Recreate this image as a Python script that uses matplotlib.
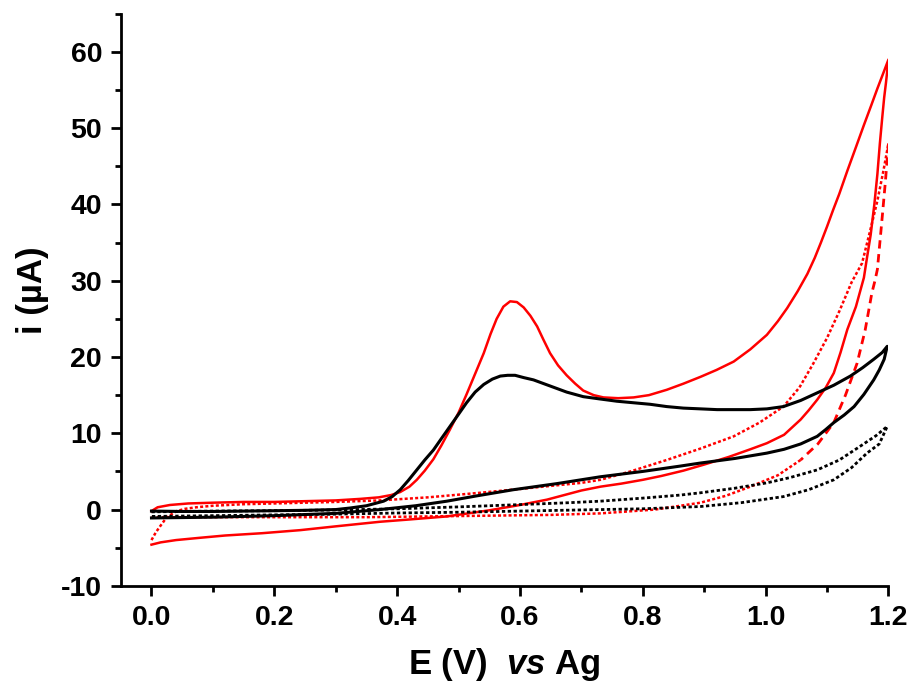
import numpy as np
import matplotlib
matplotlib.use("Agg")
import matplotlib.pyplot as plt
from matplotlib.ticker import MultipleLocator

plt.rcParams['font.family'] = ['Liberation Sans', 'DejaVu Sans']
plt.rcParams['font.weight'] = 'bold'
plt.rcParams['axes.unicode_minus'] = False
plt.rcParams['mathtext.fontset'] = 'custom'
plt.rcParams['mathtext.it'] = 'Liberation Sans:italic:bold'
plt.rcParams['mathtext.rm'] = 'Liberation Sans:bold'

# --- voltamogramas (E en V, i en uA) ---

# rojo continuo
rs_fwd_E = [0.000, 0.010, 0.030, 0.060, 0.100, 0.150, 0.200, 0.250, 0.300, 0.340, 0.370,
            0.390, 0.405, 0.420, 0.432, 0.445, 0.459, 0.472, 0.486, 0.500, 0.513, 0.527,
            0.541, 0.552, 0.562, 0.573, 0.584, 0.595, 0.606, 0.617, 0.628, 0.638, 0.649,
            0.662, 0.676, 0.690, 0.703, 0.720, 0.736, 0.760, 0.785, 0.810, 0.839, 0.866,
            0.894, 0.920, 0.948, 0.975, 1.002, 1.020, 1.035, 1.052, 1.068, 1.080, 1.090,
            1.100, 1.110, 1.120, 1.133, 1.147, 1.160, 1.172, 1.182, 1.192, 1.200]
rs_fwd_i = [-0.2, 0.3, 0.6, 0.8, 0.9, 1.0, 1.0, 1.1, 1.2, 1.4, 1.6,
            1.9, 2.3, 3.0, 3.9, 5.1, 6.6, 8.4, 10.5, 12.7, 15.1, 17.8,
            20.5, 23.0, 25.0, 26.6, 27.3, 27.2, 26.5, 25.4, 24.0, 22.3, 20.5,
            18.9, 17.6, 16.5, 15.6, 15.0, 14.7, 14.6, 14.7, 15.0, 15.7, 16.5,
            17.4, 18.3, 19.4, 21.0, 22.9, 24.7, 26.4, 28.6, 30.9, 33.0, 35.0,
            37.1, 39.3, 41.4, 44.4, 47.5, 50.4, 53.0, 55.2, 57.3, 59.0]
rs_rev_E = [1.196, 1.193, 1.190, 1.186, 1.182, 1.177, 1.171, 1.165, 1.160, 1.147, 1.133,
            1.122, 1.111, 1.098, 1.084, 1.070, 1.057, 1.030, 1.002, 0.975, 0.940, 0.900,
            0.866, 0.830, 0.800, 0.765, 0.731, 0.700, 0.644, 0.600, 0.550, 0.481, 0.420,
            0.372, 0.300, 0.242, 0.180, 0.120, 0.079, 0.040, 0.015, 0.000]
rs_rev_i = [56.0, 54.0, 51.5, 48.0, 44.0, 40.0, 36.0, 33.0, 30.4, 26.6, 23.6,
            20.6, 17.9, 16.0, 14.4, 13.0, 11.8, 9.8, 8.7, 7.9, 6.9, 5.9,
            5.1, 4.4, 3.9, 3.4, 3.0, 2.5, 1.3, 0.6, -0.1, -0.9, -1.3,
            -1.6, -2.2, -2.7, -3.1, -3.4, -3.7, -4.0, -4.3, -4.6]

# negro continuo
bs_fwd_E = [0.000, 0.050, 0.100, 0.150, 0.200, 0.250, 0.300, 0.323, 0.350, 0.378, 0.392,
            0.405, 0.418, 0.432, 0.445, 0.459, 0.472, 0.486, 0.500, 0.513, 0.527, 0.541,
            0.555, 0.568, 0.580, 0.592, 0.606, 0.622, 0.649, 0.676, 0.703, 0.730, 0.758,
            0.785, 0.812, 0.839, 0.866, 0.894, 0.921, 0.948, 0.975, 1.002, 1.029, 1.057,
            1.084, 1.111, 1.138, 1.158, 1.176, 1.190, 1.198]
bs_fwd_i = [-0.2, -0.25, -0.25, -0.2, -0.15, -0.1, 0.0, 0.2, 0.5, 1.1, 1.7,
            2.6, 3.8, 5.2, 6.5, 7.8, 9.3, 10.9, 12.5, 14.0, 15.4, 16.4,
            17.1, 17.5, 17.6, 17.6, 17.3, 17.0, 16.2, 15.4, 14.8, 14.5, 14.2,
            14.0, 13.8, 13.5, 13.3, 13.2, 13.1, 13.1, 13.1, 13.2, 13.5, 14.3,
            15.3, 16.3, 17.5, 18.6, 19.7, 20.6, 21.4]
bs_rev_E = [1.193, 1.185, 1.176, 1.160, 1.144, 1.128, 1.111, 1.098, 1.084, 1.057, 1.030,
            1.002, 0.950, 0.894, 0.861, 0.800, 0.731, 0.660, 0.589, 0.530, 0.481, 0.430,
            0.372, 0.300, 0.200, 0.100, 0.000]
bs_rev_i = [19.7, 18.3, 17.0, 15.1, 13.5, 12.4, 11.4, 10.5, 9.6, 8.6, 7.9,
            7.4, 6.7, 6.1, 5.7, 5.0, 4.3, 3.4, 2.6, 1.8, 1.1, 0.5,
            0.0, -0.5, -0.8, -1.0, -1.1]

# rojo punteado (ida, y vuelta en dos tramos: empinado y bajo)
rd_fwd_E = [0.000, 0.007, 0.014, 0.024, 0.033, 0.041, 0.055, 0.073, 0.100, 0.150, 0.200,
            0.250, 0.300, 0.372, 0.450, 0.535, 0.600, 0.650, 0.700, 0.731, 0.780, 0.839,
            0.894, 0.948, 0.990, 1.029, 1.055, 1.078, 1.100, 1.120, 1.140, 1.157, 1.170,
            1.182, 1.192, 1.200]
rd_fwd_i = [-4.0, -3.0, -2.2, -1.1, -0.6, -0.2, 0.1, 0.3, 0.5, 0.7, 0.8,
            0.9, 1.0, 1.2, 1.6, 2.2, 2.7, 3.1, 3.5, 3.9, 5.0, 6.5,
            8.0, 9.6, 11.4, 13.5, 16.0, 19.2, 22.5, 26.0, 29.8, 32.3, 36.5,
            40.5, 44.5, 48.0]
rd_rev_alto_E = [1.200, 1.195, 1.190, 1.186, 1.182, 1.178, 1.173, 1.162, 1.149, 1.130,
                 1.111, 1.085, 1.057]
rd_rev_alto_i = [48.0, 43.0, 38.5, 35.0, 31.5, 30.0, 28.4, 23.5, 19.2, 15.0,
                 11.4, 8.6, 6.5]
rd_rev_bajo_E = [1.057, 1.020, 0.975, 0.935, 0.894, 0.820, 0.731, 0.650, 0.550, 0.450,
                 0.350, 0.250, 0.150, 0.080, 0.030, 0.000]
rd_rev_bajo_i = [6.5, 4.5, 3.0, 1.8, 0.9, 0.0, -0.5, -0.7, -0.8, -0.9,
                 -1.0, -1.0, -1.0, -1.0, -1.0, -1.0]

# negro punteado
bd_fwd_E = [0.000, 0.100, 0.200, 0.300, 0.400, 0.500, 0.600, 0.680, 0.731, 0.800, 0.861,
            0.894, 0.950, 1.002, 1.040, 1.084, 1.120, 1.154, 1.180, 1.198]
bd_fwd_i = [-0.3, -0.2, -0.15, -0.05, 0.1, 0.35, 0.65, 0.9, 1.1, 1.5, 1.9,
            2.2, 2.8, 3.5, 4.2, 5.2, 6.5, 8.3, 9.7, 10.9]
bd_rev_E = [1.185, 1.165, 1.140, 1.111, 1.070, 1.029, 0.960, 0.894, 0.800, 0.731, 0.600,
            0.500, 0.400, 0.300, 0.200, 0.100, 0.000]
bd_rev_i = [8.6, 7.4, 5.5, 3.9, 2.6, 1.7, 0.9, 0.4, 0.1, 0.0, -0.2,
            -0.35, -0.45, -0.6, -0.7, -0.8, -0.9]

ROJO = "#ff0000"
NEGRO = "#000000"

fig = plt.figure(figsize=(9.15, 6.86), dpi=100)
ax = fig.add_axes([0.132, 0.146, 0.839, 0.834])

puntos = (0, (1.2, 0.9))
rayas = (0, (3.0, 2.0))
ax.plot(rd_fwd_E, rd_fwd_i, color=ROJO, lw=1.8, ls=puntos)
ax.plot(rd_rev_alto_E, rd_rev_alto_i, color=ROJO, lw=2.0, ls=rayas)
ax.plot(rd_rev_bajo_E, rd_rev_bajo_i, color=ROJO, lw=1.8, ls=puntos)
ax.plot(rs_fwd_E + rs_rev_E, rs_fwd_i + rs_rev_i, color=ROJO, lw=1.8)
ax.plot(bd_fwd_E + bd_rev_E, bd_fwd_i + bd_rev_i, color=NEGRO, lw=2.0, ls=puntos)
ax.plot(bs_fwd_E + bs_rev_E, bs_fwd_i + bs_rev_i, color=NEGRO, lw=2.2)

ax.set_xlim(-0.05, 1.2)
ax.set_ylim(-10, 65)
ax.xaxis.set_minor_locator(MultipleLocator(0.1))
ax.yaxis.set_minor_locator(MultipleLocator(5))
ax.set_xticks(np.arange(0, 1.21, 0.2))
ax.set_xticklabels([f"{v:.1f}" for v in np.arange(0, 1.21, 0.2)])
ax.set_yticks(np.arange(-10, 61, 10))

for lado in ("top", "right"):
    ax.spines[lado].set_visible(False)
for lado in ("left", "bottom"):
    ax.spines[lado].set_linewidth(2.0)
ax.tick_params(which="major", direction="out", length=7.5, width=2.0,
               labelsize=20.5, pad=6)
ax.tick_params(which="minor", direction="out", length=4, width=2.0)
for t in ax.get_xticklabels() + ax.get_yticklabels():
    t.set_fontweight("bold")

ax.set_xlabel(r"E (V)  $\mathit{vs}$ Ag", fontsize=25, fontweight="bold")
ax.set_ylabel("i (\u00b5A)", fontsize=25, fontweight="bold")
ax.xaxis.set_label_coords(0.5, -0.105)
ax.yaxis.set_label_coords(-0.094, 0.517)

fig.savefig("out.png", dpi=100)
